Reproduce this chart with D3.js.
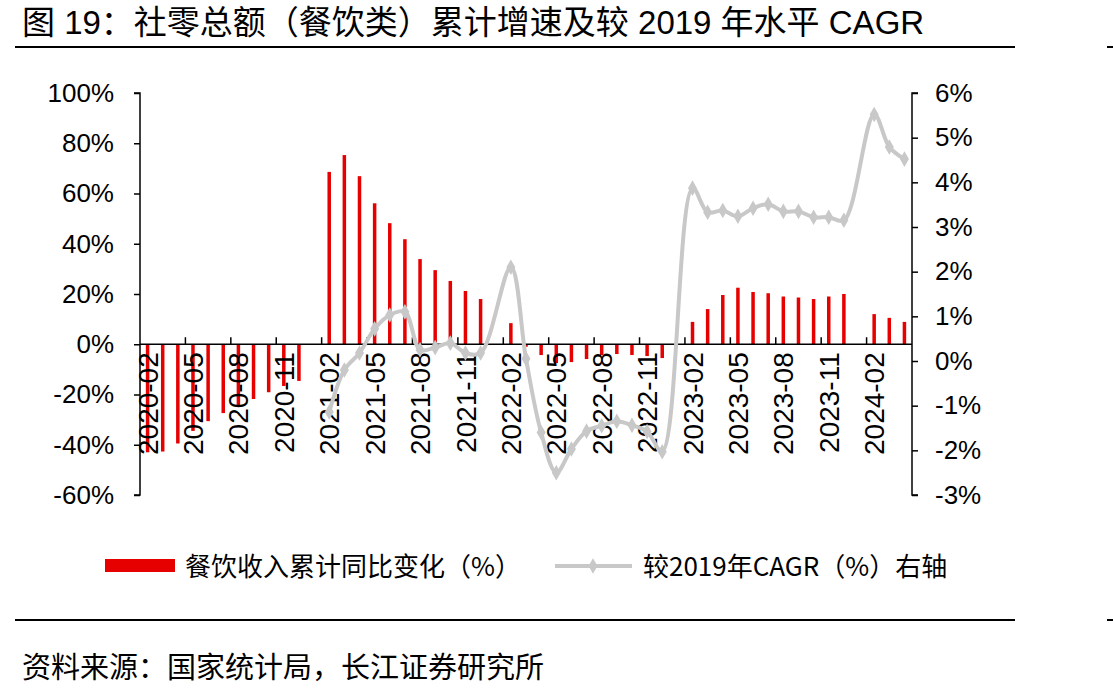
<!DOCTYPE html>
<html>
<head>
<meta charset="utf-8">
<script src="https://cdn.jsdelivr.net/npm/d3@7"></script>
<style>
  body { margin: 0; background: #fff; }
  svg text { font-family: "Liberation Sans", Arial, "Noto Sans CJK SC", sans-serif; }
</style>
</head>
<body>
<div id="chart"></div>
<script>
// categories: monthly, 2020-02 .. 2024-04 (January has no standalone data)
const months = [];
for (let y = 2020; y <= 2024; y++) {
    for (let m = 1; m <= 12; m++) {
        if (y === 2020 && m < 2) continue;
        if (y === 2024 && m > 4) break;
        months.push(`${y}-${String(m).padStart(2, "0")}`);
    }
}

// 餐饮收入累计同比 (%) — left axis
const barValues = [
    -43.0, -42.7, -39.5, -34.5, -30.6, -27.4, -24.6, -21.8, -19.1, -16.6, -14.6,   // 2020-02..12
    null, 68.6, 75.3, 66.9, 56.1, 48.2, 41.8, 33.9, 29.5, 25.2, 21.2, 18.0,       // 2021
    null, 8.4, -1.0, -4.3, -7.5, -7.1, -5.9, -4.3, -3.9, -4.3, -4.7, -5.5,        // 2022
    null, 8.9, 14.0, 19.6, 22.5, 20.8, 20.3, 19.0, 18.6, 18.0, 19.0, 20.0,        // 2023
    null, 12.0, 10.5, 8.9                                                          // 2024
];

// 较2019年CAGR (%) — right axis
const cagrValues = [
    null, null, null, null, null, null, null, null, null, null, null,             // 2020
    null, -1.14, -0.20, 0.18, 0.72, 1.03, 1.10, 0.25, 0.30, 0.40, 0.18, 0.18,     // 2021
    null, 2.10, 0.05, -1.60, -2.50, -1.97, -1.57, -1.45, -1.35, -1.44, -1.58, -2.03, // 2022
    null, 3.87, 3.33, 3.37, 3.24, 3.42, 3.51, 3.35, 3.35, 3.22, 3.22, 3.15,       // 2023
    null, 5.52, 4.79, 4.52                                                         // 2024
];

const leftTicks = [-60, -40, -20, 0, 20, 40, 60, 80, 100];
const rightTicks = [-3, -2, -1, 0, 1, 2, 3, 4, 5, 6];

const title = "图 19：社零总额（餐饮类）累计增速及较 2019 年水平 CAGR";
const source = "资料来源：国家统计局，长江证券研究所";
const legendBar = "餐饮收入累计同比变化（%）";
const legendLine = "较2019年CAGR（%）右轴";

const W = 1113, H = 695;
const plot = {left: 140, right: 912, top: 93, bottom: 495};
const red = "#e60000", grey = "#c8c8c8";

const svg = d3.select("#chart").append("svg")
    .attr("width", W).attr("height", H);

// Scales
const x = d3.scaleBand().domain(months).range([plot.left, plot.right]);
const yL = d3.scaleLinear().domain([-60, 100]).range([plot.bottom, plot.top]);
const yR = d3.scaleLinear().domain([-3, 6]).range([plot.bottom, plot.top]);
const cx = d => x(d) + x.bandwidth() / 2;

// Title + rules
svg.append("text").attr("x", 22).attr("y", 34)
    .attr("font-size", 33).attr("fill", "#000")
    .style("font-family", "'Liberation Sans', 'Noto Sans CJK SC', sans-serif")
    .text(title);
[47, 620].forEach(yy => {
    svg.append("line").attr("x1", 15).attr("x2", 1015).attr("y1", yy).attr("y2", yy)
        .attr("stroke", "#000").attr("stroke-width", 2);
    svg.append("line").attr("x1", 1107).attr("x2", 1113).attr("y1", yy).attr("y2", yy)
        .attr("stroke", "#000").attr("stroke-width", 2);
});

// Left axis
const leftAxis = svg.append("g")
    .attr("transform", `translate(${plot.left},0)`)
    .call(d3.axisLeft(yL).tickValues(leftTicks).tickSize(6).tickPadding(20)
        .tickFormat(d => d + "%"));
// Right axis
const rightAxis = svg.append("g")
    .attr("transform", `translate(${plot.right},0)`)
    .call(d3.axisRight(yR).tickValues(rightTicks).tickSize(6).tickPadding(17)
        .tickFormat(d => d + "%"));
[leftAxis, rightAxis].forEach(g => {
    g.selectAll("path.domain").attr("stroke", "#000").attr("stroke-width", 1.5)
        .attr("d", g === leftAxis
            ? `M-6,${plot.top}H0V${plot.bottom}H-6`
            : `M6,${plot.top}H0V${plot.bottom}H6`);
    g.selectAll(".tick line").attr("stroke", "#000").attr("stroke-width", 1.5);
    g.selectAll(".tick text").attr("font-size", 26).attr("fill", "#000")
        .style("font-family", "'Liberation Sans', Arial, sans-serif");
});

// Bars
svg.append("g").selectAll("rect")
    .data(months.map((m, i) => ({m, v: barValues[i]})).filter(d => d.v !== null))
    .enter().append("rect")
    .attr("x", d => cx(d.m) - 1.75)
    .attr("width", 3.5)
    .attr("y", d => Math.min(yL(d.v), yL(0)))
    .attr("height", d => Math.abs(yL(d.v) - yL(0)))
    .attr("fill", red);

// Category axis at left-axis zero
const y0 = yL(0);
const xAxis = svg.append("g");
xAxis.append("line").attr("x1", plot.left).attr("x2", plot.right)
    .attr("y1", y0).attr("y2", y0).attr("stroke", "#000").attr("stroke-width", 1.5);
const labelIdx = months.map((m, i) => i).filter(i => i % 3 === 0);
xAxis.selectAll("line.tk")
    .data(labelIdx.filter(i => i > 0))
    .enter().append("line").attr("class", "tk")
    .attr("x1", i => x(months[i])).attr("x2", i => x(months[i]))
    .attr("y1", y0).attr("y2", y0 - 7)
    .attr("stroke", "#000").attr("stroke-width", 1.5);
xAxis.selectAll("text")
    .data(labelIdx)
    .enter().append("text")
    .attr("transform", i => `translate(${cx(months[i])},${y0 + 8}) rotate(-90)`)
    .attr("text-anchor", "end")
    .attr("dy", "0.36em")
    .attr("font-size", 28).attr("fill", "#000")
    .text(i => months[i]);

// CAGR line
const linePts = months.map((m, i) => ({m, v: cagrValues[i]})).filter(d => d.v !== null);
const line = d3.line()
    .x(d => cx(d.m)).y(d => yR(d.v))
    .curve(d3.curveCatmullRom.alpha(0.5));
svg.append("path").datum(linePts)
    .attr("d", line).attr("fill", "none")
    .attr("stroke", grey).attr("stroke-width", 4).attr("stroke-linejoin", "round");
const diamond = d3.symbol().type(d3.symbolDiamond).size(70);
svg.append("g").selectAll("path")
    .data(linePts).enter().append("path")
    .attr("d", diamond)
    .attr("transform", d => `translate(${cx(d.m)},${yR(d.v)})`)
    .attr("fill", grey);

// Legend
const lg = svg.append("g");
lg.append("rect").attr("x", 105).attr("y", 559).attr("width", 70).attr("height", 13).attr("fill", red);
lg.append("text").attr("x", 185).attr("y", 576).attr("font-size", 26).attr("fill", "#000")
    .style("font-family", "'Noto Sans CJK SC', sans-serif").text(legendBar);
lg.append("line").attr("x1", 555).attr("x2", 632).attr("y1", 566).attr("y2", 566)
    .attr("stroke", grey).attr("stroke-width", 4);
lg.append("path").attr("d", diamond).attr("transform", "translate(593,566)").attr("fill", grey);
lg.append("text").attr("x", 643).attr("y", 576).attr("font-size", 26).attr("fill", "#000")
    .style("font-family", "'Noto Sans CJK SC', sans-serif").text(legendLine);

// Source
svg.append("text").attr("x", 22).attr("y", 678).attr("font-size", 29).attr("fill", "#000")
    .style("font-family", "'Noto Sans CJK SC', sans-serif").text(source);
</script>
</body>
</html>
